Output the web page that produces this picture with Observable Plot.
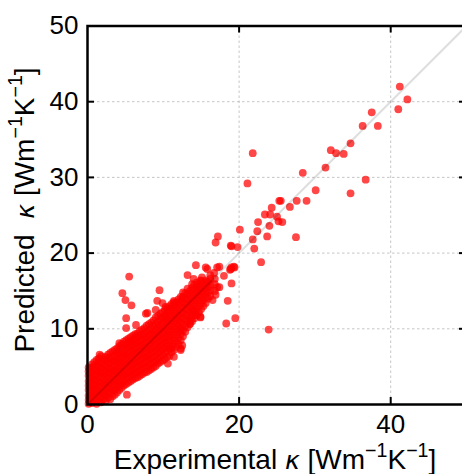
<!DOCTYPE html>
<html><head><meta charset="utf-8">
<script src="https://cdn.jsdelivr.net/npm/d3@7"></script>
<script src="https://cdn.jsdelivr.net/npm/@observablehq/plot@0.6"></script>
<style>html,body{margin:0;padding:0;background:#fff;overflow:hidden;} #chart{width:462px;height:474px;}</style>
</head><body><div id="chart"></div>
<script>
// Axis ticks and grid
const xTicks = [0, 20, 40];
const yTicks = [0, 10, 20, 30, 40, 50];
const xGrid = [20, 40];
const yGrid = [10, 20, 30, 40];
const identityLine = [0, 50];
const xLabel = ["Experimental ", "κ", " [Wm", "−1", "K", "−1", "]"];
const yLabel = ["Predicted  ", "κ", " [Wm", "−1", "K", "−1", "]"];

// Dense cluster: experimental κ (column) -> predicted κ values
const clusterColumnsA = [
  [0.15, [0.1, 0.6, 1.2, 1.9, 2.5, 3.1, 3.8, 4.4, 4.9]],
  [0.6,  [0.2, 0.9, 1.5, 2.2, 2.8, 3.5, 4.1, 4.8, 5.3]],
  [1.2,  [0.1, 0.7, 1.4, 2.0, 2.7, 3.3, 4.0, 4.6, 5.2, 5.9]],
  [1.8,  [0.3, 1.0, 1.6, 2.3, 2.9, 3.6, 4.2, 4.9, 5.5, 6.4]],
  [2.4,  [0.5, 1.2, 1.8, 2.5, 3.1, 3.8, 4.4, 5.1, 5.8, 6.3]],
  [3.0,  [0.7, 1.5, 2.1, 2.8, 3.4, 4.1, 4.7, 5.4, 6.0, 6.8]],
  [3.6,  [1.3, 1.9, 2.6, 3.2, 3.9, 4.5, 5.2, 5.8, 6.5, 7.2]],
  [4.2,  [1.9, 2.5, 3.1, 3.8, 4.4, 5.1, 5.7, 6.4, 7.0, 7.7]],
  [4.8,  [2.5, 3.1, 3.8, 4.4, 5.1, 5.7, 6.4, 7.0, 7.7, 8.3]],
  [5.4,  [2.9, 3.6, 4.2, 4.9, 5.5, 6.2, 6.8, 7.5, 8.1, 8.7]],
  [6.0,  [3.3, 4.0, 4.6, 5.3, 5.9, 6.6, 7.2, 7.9, 8.5, 9.1]],
  [6.6,  [3.6, 4.3, 5.0, 5.6, 6.3, 6.9, 7.6, 8.2, 8.9, 9.4]],
  [7.2,  [4.0, 4.7, 5.3, 6.0, 6.6, 7.3, 7.9, 8.6, 9.2, 9.9]],
  [7.8,  [4.3, 5.0, 5.7, 6.3, 7.0, 7.6, 8.3, 8.9, 9.6, 10.4]],
  [8.4,  [4.7, 5.4, 6.1, 6.8, 7.4, 8.1, 8.7, 9.4, 10.0, 10.8]],
  [9.0,  [5.1, 5.8, 6.5, 7.2, 7.9, 8.6, 9.2, 9.9, 10.6, 11.5]],
  [9.6,  [5.6, 6.3, 7.0, 7.7, 8.4, 9.1, 9.8, 10.5, 11.2, 12.0]],
  [10.2, [6.0, 6.8, 7.5, 8.2, 8.9, 9.6, 10.3, 11.0, 11.7, 12.5]],
  [10.8, [6.4, 7.4, 8.2, 8.9, 9.6, 10.3, 11.0, 11.7, 12.4, 13.0]],
  [11.4, [7.2, 8.0, 8.8, 9.6, 10.3, 11.0, 11.7, 12.4, 13.1, 13.7]],
  [12.0, [8.0, 8.8, 9.6, 10.4, 11.1, 11.8, 12.5, 13.2, 13.9]],
  [12.6, [9.0, 9.8, 10.6, 11.4, 12.1, 12.8, 13.5, 14.2, 14.8]],
  [13.2, [10.2, 11.0, 11.8, 12.5, 13.2, 13.9, 14.6, 15.3]],
  [13.8, [11.0, 11.8, 12.6, 13.3, 14.0, 14.7, 15.4, 15.9]],
  [14.4, [11.8, 12.6, 13.4, 14.1, 14.8, 15.5, 16.1]],
  [15.0, [12.6, 13.4, 14.2, 14.9, 15.6, 16.3]],
  [15.6, [13.4, 14.2, 15.0, 15.7, 16.4]],
  [16.2, [14.3, 15.1, 15.8, 16.6, 17.1]],
  [16.8, [15.0, 15.9, 16.6]]
];
const clusterColumnsB = [
  [0.4,  [0.4, 1.0, 1.6, 2.3, 2.9, 3.5, 4.2, 4.8]],
  [0.9,  [0.5, 1.2, 1.8, 2.5, 3.2, 3.8, 4.5, 5.1, 5.6]],
  [1.5,  [0.4, 1.1, 1.7, 2.4, 3.0, 3.7, 4.3, 5.0, 5.7, 6.1]],
  [2.1,  [0.7, 1.4, 2.0, 2.7, 3.3, 4.0, 4.6, 5.3, 6.0]],
  [2.7,  [0.9, 1.6, 2.2, 2.9, 3.5, 4.2, 4.8, 5.5, 6.2, 6.6]],
  [3.3,  [1.1, 1.8, 2.4, 3.1, 3.7, 4.4, 5.0, 5.7, 6.3, 7.0]],
  [3.9,  [1.6, 2.2, 2.9, 3.5, 4.2, 4.8, 5.5, 6.1, 6.8, 7.4]],
  [4.5,  [2.2, 2.8, 3.5, 4.1, 4.8, 5.4, 6.1, 6.7, 7.3, 8.0]],
  [5.1,  [2.7, 3.4, 4.0, 4.7, 5.3, 6.0, 6.6, 7.3, 7.9, 8.5]],
  [5.7,  [3.1, 3.8, 4.4, 5.1, 5.7, 6.4, 7.0, 7.7, 8.3, 8.9]],
  [6.3,  [3.5, 4.2, 4.8, 5.5, 6.1, 6.8, 7.4, 8.1, 8.7, 9.3]],
  [6.9,  [3.8, 4.5, 5.2, 5.8, 6.5, 7.1, 7.8, 8.4, 9.1, 9.7]],
  [7.5,  [4.2, 4.9, 5.5, 6.2, 6.8, 7.5, 8.1, 8.8, 9.4, 10.1]],
  [8.1,  [4.5, 5.2, 5.9, 6.5, 7.2, 7.9, 8.5, 9.2, 9.8, 10.6]],
  [8.7,  [4.9, 5.6, 6.3, 7.0, 7.7, 8.4, 9.0, 9.7, 10.4, 11.1]],
  [9.3,  [5.4, 6.1, 6.8, 7.5, 8.2, 8.9, 9.5, 10.2, 10.9, 11.7]],
  [9.9,  [5.8, 6.6, 7.3, 8.0, 8.7, 9.4, 10.1, 10.8, 11.5, 12.2]],
  [10.5, [6.3, 7.1, 7.8, 8.5, 9.2, 9.9, 10.6, 11.3, 12.0, 12.7]],
  [11.1, [6.9, 7.7, 8.5, 9.2, 9.9, 10.6, 11.3, 12.0, 12.7, 13.3]],
  [11.7, [7.6, 8.4, 9.2, 10.0, 10.7, 11.4, 12.1, 12.8, 13.5]],
  [12.3, [8.5, 9.3, 10.1, 10.8, 11.5, 12.2, 12.9, 13.6, 14.2]],
  [12.9, [9.6, 10.4, 11.2, 11.9, 12.6, 13.3, 14.0, 14.7]],
  [13.5, [10.6, 11.4, 12.2, 12.9, 13.6, 14.3, 15.0]],
  [14.1, [11.4, 12.2, 13.0, 13.7, 14.4, 15.1, 15.8]],
  [14.7, [12.2, 13.0, 13.8, 14.5, 15.2, 15.9]],
  [15.3, [13.0, 13.8, 14.6, 15.3, 16.0]],
  [15.9, [14.0, 14.8, 15.5, 16.2]]
];

// Scattered points: [experimental κ, predicted κ]
const scattered = [
  [1.6, 6.6], [4.2, 8.1], [5.1, 10.1], [6.4, 10.5], [5.1, 11.4], [5.8, 13.1], [5.0, 13.8],
  [4.6, 14.7], [5.5, 16.9], [9.5, 15.1], [7.9, 12.1], [9.0, 12.5], [9.9, 13.4], [11.4, 13.5],
  [12.5, 14.0], [10.3, 11.5], [7.7, 12.0], [9.2, 13.7], [10.3, 12.9], [14.3, 11.8], [14.9, 11.5],
  [14.0, 12.4], [13.5, 10.7], [12.3, 9.8], [12.3, 7.2], [12.5, 7.8], [11.4, 6.3], [10.6, 5.4],
  [11.0, 7.4], [12.3, 7.4], [5.2, 1.3], [16.5, 13.8], [16.9, 14.5], [18.5, 13.7], [18.3, 10.7],
  [19.5, 11.4], [23.9, 9.9], [14.9, 11.6], [13.6, 11.1], [19.0, 16.0], [17.4, 15.5], [17.1, 15.5],
  [15.1, 16.8], [13.2, 17.1], [16.7, 17.4], [18.8, 17.8], [18.0, 17.0], [14.0, 16.6], [14.9, 16.4],
  [15.8, 16.2], [14.8, 15.2], [15.8, 17.9], [17.1, 18.1], [19.4, 18.1], [19.0, 18.1], [14.3, 18.4],
  [15.6, 18.1], [17.4, 18.2], [19.3, 18.2], [18.9, 17.9], [22.9, 18.8], [19.0, 20.9], [19.8, 20.8],
  [18.9, 21.0], [22.0, 20.6], [21.8, 21.8], [16.9, 21.4], [17.2, 22.2], [23.7, 22.2], [27.5, 22.1],
  [20.1, 23.1], [22.4, 22.9], [24.0, 23.6], [22.5, 24.1], [25.7, 24.1], [25.2, 24.2], [23.4, 25.1],
  [24.1, 25.1], [25.0, 24.8], [24.3, 26.0], [25.3, 26.9], [26.7, 26.1], [25.5, 26.9], [27.6, 26.9],
  [28.9, 26.9], [21.1, 29.2], [21.8, 33.2], [30.1, 28.3], [34.7, 27.9], [28.4, 30.6], [31.4, 31.3],
  [36.7, 29.7], [32.1, 33.6], [32.8, 33.2], [33.8, 33.1], [34.7, 34.5], [36.3, 36.8], [38.3, 36.8],
  [37.5, 38.6], [41.0, 39.0], [41.2, 42.0], [42.2, 40.3]
];

const points = [
  ...clusterColumnsA.flatMap(([x, ys]) => ys.map(y => ({x, y}))),
  ...clusterColumnsB.flatMap(([x, ys]) => ys.map(y => ({x, y}))),
  ...scattered.map(([x, y]) => ({x, y}))
];

const W = 462, H = 474;
const mL = 87, mR = -4, mT = 25.5, mB = 70;
const plotW = W - mL - mR, plotH = H - mT - mB;
const FONT = "'Liberation Sans', Arial, Helvetica, sans-serif";
const FS = 26;     // tick labels
const LFS = 28;    // axis titles

const chart = Plot.plot({
  width: W, height: H,
  marginLeft: mL, marginRight: mR, marginTop: mT, marginBottom: mB,
  style: {fontFamily: FONT, fontSize: FS + "px", color: "black", background: "white", overflow: "hidden"},
  x: {domain: [0, 50]},
  y: {domain: [0, 50]},
  marks: [
    Plot.ruleX(xGrid, {x: d => d, stroke: "#b8b8b8", strokeWidth: 0.8, strokeDasharray: "2.5,2.5"}),
    Plot.ruleY(yGrid, {y: d => d, stroke: "#b8b8b8", strokeWidth: 0.8, strokeDasharray: "2.5,2.5"}),
    Plot.dot(points, {x: "x", y: "y", r: 3.9, fill: "#ff0000", fillOpacity: 0.72, stroke: "none"}),
    Plot.line(identityLine, {x: d => d, y: d => d, stroke: "black", strokeOpacity: 0.13, strokeWidth: 2}),
    Plot.frame({stroke: "black", strokeWidth: 2.5}),
    // inward tick marks
    Plot.ruleX(xGrid, {x: d => d, stroke: "black", strokeWidth: 2, insetTop: plotH - 7}),
    Plot.ruleX(xGrid, {x: d => d, stroke: "black", strokeWidth: 2, insetBottom: plotH - 7}),
    Plot.ruleY(yGrid, {y: d => d, stroke: "black", strokeWidth: 2, insetRight: plotW - 7}),
    Plot.ruleY(yGrid, {y: d => d, stroke: "black", strokeWidth: 2, insetLeft: plotW - 7}),
    Plot.axisX(xTicks, {anchor: "bottom", tickSize: 0, tickPadding: 10, fontSize: FS, fill: "black", label: null}),
    Plot.axisY(yTicks, {anchor: "left", tickSize: 0, tickPadding: 9, fontSize: FS, fill: "black", label: null})
  ]
});
document.getElementById("chart").appendChild(chart);

// Axis titles with superscripts
const svg = d3.select(chart);
function addLabel(parts, attrs) {
  const t = svg.append("text")
    .attr("font-family", FONT).attr("font-size", LFS).attr("fill", "black")
    .attr("text-anchor", "middle").style("white-space", "pre");
  Object.entries(attrs).forEach(([k, v]) => t.attr(k, v));
  let raised = false;
  parts.forEach(p => {
    const s = t.append("tspan").text(p);
    if (p === "κ") s.attr("font-style", "italic").attr("font-family", "'DejaVu Sans', sans-serif").attr("font-size", LFS * 0.9);
    if (p.startsWith("−")) { s.attr("font-size", LFS * 0.7).attr("dy", -LFS * 0.42); raised = true; }
    else if (raised) { s.attr("dy", LFS * 0.42); raised = false; }
  });
}
addLabel(xLabel, {x: 275, y: 469});
addLabel(yLabel, {transform: `translate(34,210) rotate(-90)`});
</script>
</body></html>
